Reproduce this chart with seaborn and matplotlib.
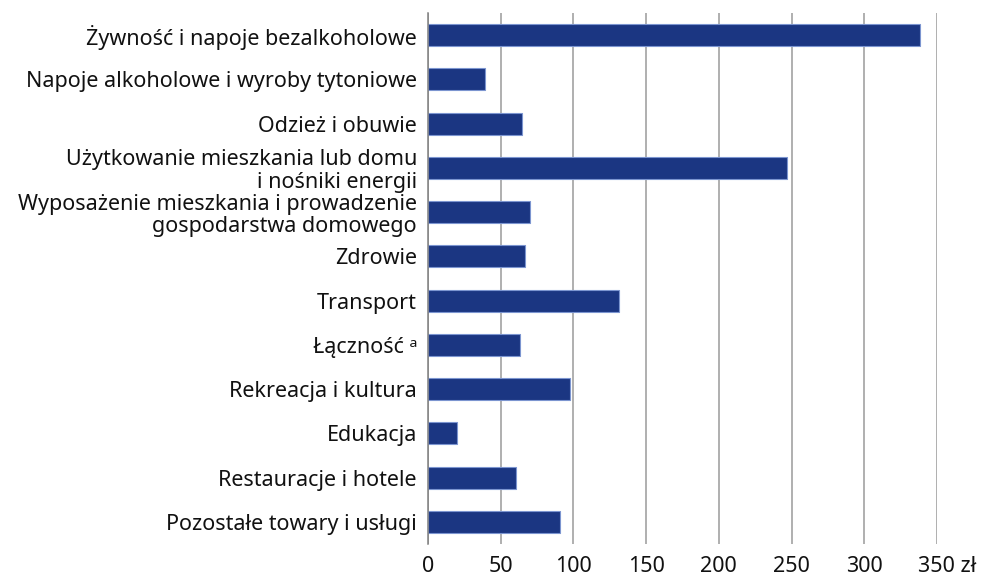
import pandas as pd
import seaborn as sns
import matplotlib.pyplot as plt
from matplotlib.ticker import FixedLocator, FixedFormatter
from matplotlib.transforms import ScaledTranslation

categories = [
    "Żywność i napoje bezalkoholowe",
    "Napoje alkoholowe i wyroby tytoniowe",
    "Odzież i obuwie",
    "Użytkowanie mieszkania lub domu\ni nośniki energii",
    "Wyposażenie mieszkania i prowadzenie\ngospodarstwa domowego",
    "Zdrowie",
    "Transport",
    "Łączność ᵃ",
    "Rekreacja i kultura",
    "Edukacja",
    "Restauracje i hotele",
    "Pozostałe towary i usługi",
]
values = [338.4, 39.2, 64.6, 246.9, 70.2, 66.7, 131.4, 63.3, 97.7, 19.9, 60.5, 90.8]
x_ticks = [0, 50, 100, 150, 200, 250, 300, 350]
x_labels = ["0", "50", "100", "150", "200", "250", "300", "350 zł"]

df = pd.DataFrame({"kategoria": categories, "wartosc": values})

sns.set_style("white")
plt.rcParams['font.family'] = ['Noto Sans', 'DejaVu Sans']

fig = plt.figure(figsize=(9.83, 5.76), dpi=100)
ax = fig.add_axes([0.4354, 0.0556, 0.5178, 0.9218])

sns.barplot(data=df, x="wartosc", y="kategoria", orient="h", color="#1b3682",
            saturation=1, width=0.5, edgecolor="#7c95d0", linewidth=0.8, ax=ax)

ax.set_xlim(0, 350)
ax.xaxis.set_major_locator(FixedLocator(x_ticks))
ax.xaxis.set_major_formatter(FixedFormatter(x_labels))
ax.grid(axis="x", color="#9a9a9a", linewidth=1.1)
ax.set_axisbelow(True)
for s in ["top", "right", "bottom"]:
    ax.spines[s].set_visible(False)
ax.spines["left"].set_color("#808080")
ax.spines["left"].set_linewidth(1.1)

ax.set_xlabel("")
ax.set_ylabel("")
ax.tick_params(axis="x", length=3, color="#9a9a9a", labelsize=15.5, pad=6,
               labelcolor="#111111")
ax.tick_params(axis="y", length=0, labelsize=15.5, pad=8, labelcolor="#111111")
for lbl in ax.get_yticklabels():
    lbl.set_linespacing(1.08)

# keep "350" centred on its grid line, with the currency sign trailing
last = ax.get_xticklabels()[-1]
last.set_ha("left")
last.set_transform(last.get_transform() + ScaledTranslation(-0.185, 0, fig.dpi_scale_trans))

fig.savefig("out.png", dpi=100)
